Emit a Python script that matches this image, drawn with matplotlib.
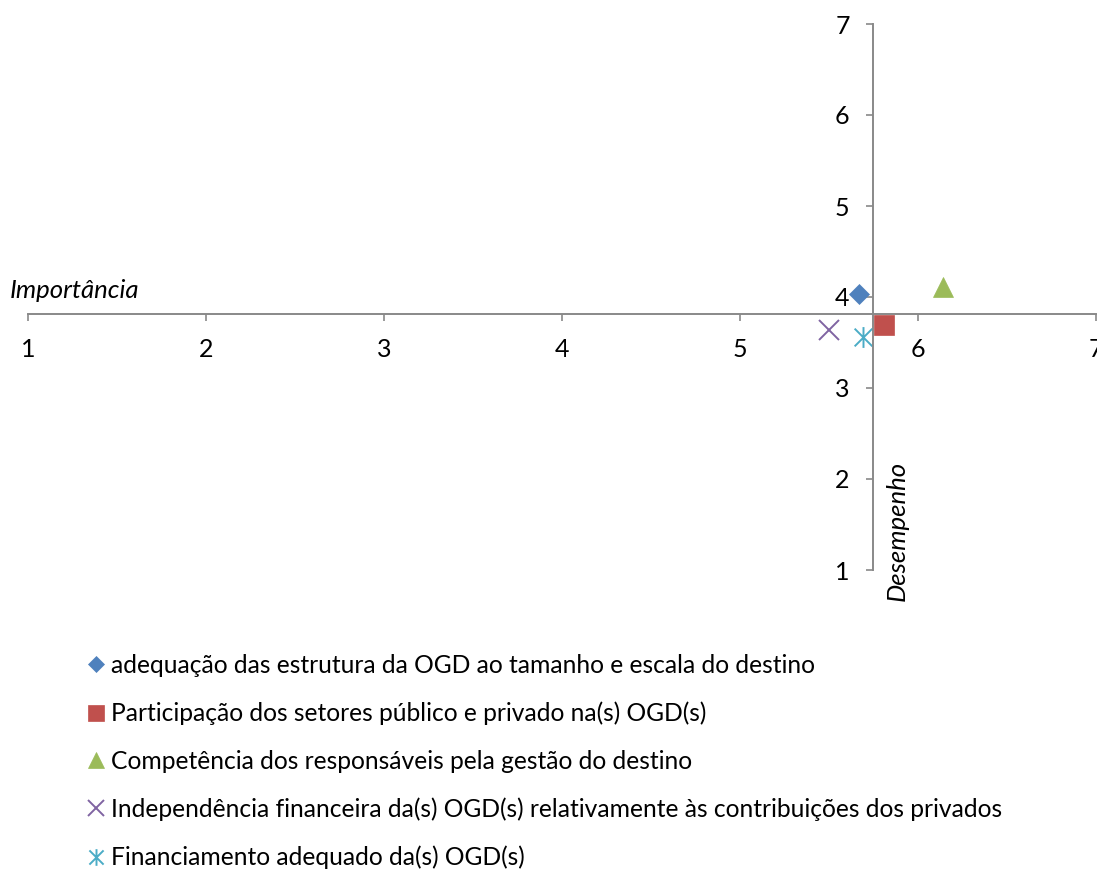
import matplotlib.pyplot as plt
from matplotlib.path import Path

plt.rcParams['font.family'] = ['Lato', 'DejaVu Sans']

# Fatores avaliados: importância (x) e desempenho (y)
labels = [
    "adequação das estrutura da OGD ao tamanho e escala do destino",
    "Participação dos setores público e privado na(s) OGD(s)",
    "Competência dos responsáveis pela gestão do destino",
    "Independência financeira da(s) OGD(s) relativamente às contribuições dos privados",
    "Financiamento adequado da(s) OGD(s)",
]
importancia = [5.67, 5.81, 6.14, 5.50, 5.69]
desempenho = [4.03, 3.69, 4.11, 3.64, 3.56]

# eixos cruzam nas médias
media_importancia = 5.75
media_desempenho = 3.81

colors = ['#4F81BD', '#C0504D', '#9BBB59', '#8064A2', '#4BACC6']

# asterisco: vertical + diagonais
asterisk = Path(
    [(0, -1), (0, 1), (-0.85, -0.85), (0.85, 0.85), (-0.85, 0.85), (0.85, -0.85)],
    [Path.MOVETO, Path.LINETO, Path.MOVETO, Path.LINETO, Path.MOVETO, Path.LINETO],
)
markers = ['D', 's', '^', 'x', asterisk]
sizes = [10.5, 15, 14.5, 14.5, 15]

fig = plt.figure(figsize=(10.97, 8.69), dpi=100)
ax = fig.add_axes([28 / 1097, 1 - 570 / 869, (1095.7 - 28) / 1097, (570 - 24) / 869])

handles = []
for xi, yi, c, m, s, lab in zip(importancia, desempenho, colors, markers, sizes, labels):
    line_only = m == 'x' or isinstance(m, Path)
    h, = ax.plot([xi], [yi], linestyle='none', marker=m, markersize=s,
                 color=c, markeredgecolor=c,
                 markerfacecolor='none' if line_only else c,
                 markeredgewidth=1.4 if line_only else 0.5, label=lab)
    handles.append(h)

ax.set_xlim(1, 7)
ax.set_ylim(1, 7)
ax.set_xticks(range(1, 8))
ax.set_yticks(range(1, 8))

gray = '#898989'
for side in ('top', 'right'):
    ax.spines[side].set_visible(False)
ax.spines['left'].set_position(('data', media_importancia))
ax.spines['bottom'].set_position(('data', media_desempenho))
for side in ('left', 'bottom'):
    ax.spines[side].set_color(gray)
    ax.spines[side].set_linewidth(1.4)
ax.tick_params(axis='both', direction='out', length=5, width=1.2, color=gray,
               labelsize=18, labelcolor='black')
ax.tick_params(axis='x', pad=12)
ax.tick_params(axis='y', pad=12)
ax.patch.set_visible(False)

fig.text(10 / 1097, 1 - 290 / 869, 'Importância', style='italic', fontsize=18.5,
         ha='left', va='center')
fig.text(897 / 1097, 1 - 531 / 869, 'Desempenho', style='italic', fontsize=18.5,
         rotation=90, ha='center', va='center')

fig.legend(handles=handles, labels=labels, loc='upper left',
           bbox_to_anchor=(83.5 / 1097, 1 - 654 / 869), frameon=False,
           fontsize=17.7, handlelength=1.0, handletextpad=0.1, labelspacing=1.0,
           borderpad=0, borderaxespad=0, markerscale=0.8, numpoints=1)

fig.savefig('out.png', dpi=100)
